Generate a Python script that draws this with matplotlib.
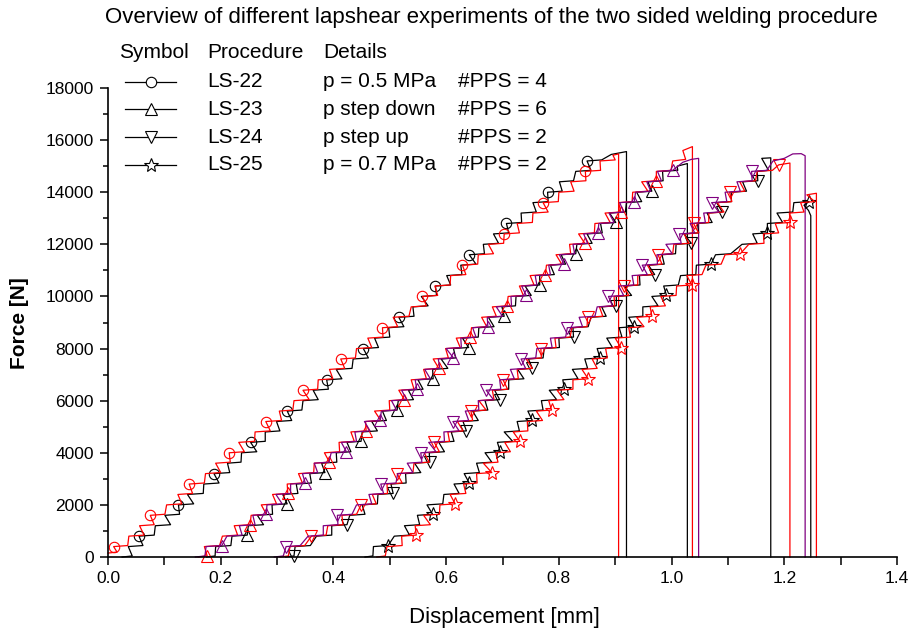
import matplotlib
matplotlib.use("Agg")
import matplotlib.pyplot as plt
from matplotlib.lines import Line2D
from matplotlib.ticker import MultipleLocator

plt.rcParams["font.family"] = ["Liberation Sans", "DejaVu Sans"]

# force readings (N), shared by the curves: level and the end of the jitter stroke
force_steps = [0, 40, 400, 440, 800, 840, 1200, 1240, 1600, 1640, 2000, 2040, 2400, 2440, 2800, 2840,
               3200, 3240, 3600, 3640, 4000, 4040, 4400, 4440, 4800, 4840, 5200, 5240, 5600, 5640,
               6000, 6040, 6400, 6440, 6800, 6840, 7200, 7240, 7600, 7640, 8000, 8040, 8400, 8440,
               8800, 8840, 9200, 9240, 9600, 9640, 10000, 10040, 10400, 10440, 10800, 10840,
               11200, 11240, 11600, 11640, 12000, 12040, 12400, 12440, 12800, 12840, 13200, 13240,
               13600, 13640, 14000, 14040, 14400, 14440, 14800, 14840, 15200, 15240]

# LS-22 (circles)
ls22_black_x = [0.025, 0.043, 0.036, 0.062, 0.055, 0.082, 0.084, 0.111, 0.101, 0.127, 0.125, 0.152, 0.141, 0.169,
                0.170, 0.197, 0.188, 0.216, 0.212, 0.236, 0.237, 0.264, 0.253, 0.279, 0.279, 0.305, 0.299, 0.326,
                0.318, 0.344, 0.346, 0.373, 0.364, 0.391, 0.388, 0.415, 0.405, 0.433, 0.435, 0.462, 0.453, 0.480,
                0.473, 0.500, 0.498, 0.525, 0.516, 0.543, 0.541, 0.568, 0.556, 0.583, 0.581, 0.608, 0.601, 0.628,
                0.626, 0.653, 0.641, 0.668, 0.666, 0.693, 0.684, 0.711, 0.707, 0.734, 0.733, 0.760, 0.754, 0.781,
                0.780, 0.806, 0.801, 0.826, 0.830, 0.857, 0.850, 0.876, 0.893, 0.920, 0.920]
ls22_black_y = force_steps[:78] + [15450, 15560, 0]
ls22_red_x = [0.000, 0.016, 0.010, 0.035, 0.037, 0.064, 0.056, 0.082, 0.075, 0.101, 0.104, 0.131, 0.124, 0.150,
              0.144, 0.171, 0.173, 0.200, 0.191, 0.217, 0.215, 0.242, 0.232, 0.260, 0.261, 0.288, 0.280, 0.308,
              0.304, 0.328, 0.330, 0.357, 0.346, 0.372, 0.373, 0.399, 0.393, 0.420, 0.413, 0.439, 0.441, 0.468,
              0.461, 0.488, 0.487, 0.514, 0.506, 0.534, 0.538, 0.565, 0.558, 0.585, 0.580, 0.607, 0.608, 0.635,
              0.629, 0.656, 0.657, 0.684, 0.675, 0.702, 0.703, 0.730, 0.726, 0.753, 0.754, 0.781, 0.772, 0.799,
              0.800, 0.827, 0.821, 0.848, 0.847, 0.874, 0.873, 0.900, 0.896, 0.906, 0.906]
ls22_red_y = [150, 190] + force_steps[2:78] + [15420, 15470, 0]

# LS-23 (triangles up)
ls23_black_x = [0.175, 0.190, 0.191, 0.218, 0.220, 0.247, 0.249, 0.276, 0.265, 0.292, 0.291, 0.318, 0.310, 0.337,
                0.334, 0.361, 0.358, 0.385, 0.379, 0.406, 0.405, 0.431, 0.424, 0.449, 0.451, 0.478, 0.468, 0.494,
                0.487, 0.513, 0.515, 0.542, 0.533, 0.559, 0.550, 0.577, 0.576, 0.603, 0.591, 0.617, 0.613, 0.640,
                0.629, 0.657, 0.658, 0.685, 0.675, 0.703, 0.699, 0.723, 0.724, 0.751, 0.740, 0.766, 0.766, 0.792,
                0.785, 0.812, 0.804, 0.830, 0.832, 0.859, 0.850, 0.877, 0.874, 0.901, 0.890, 0.918, 0.920, 0.947,
                0.938, 0.965, 0.958, 0.985, 0.984, 1.011, 1.010, 1.028, 1.028]
ls23_black_y = force_steps[:76] + [15000, 15100, 0]
ls23_red_x = [0.160, 0.176, 0.171, 0.198, 0.203, 0.230, 0.224, 0.252, 0.254, 0.281, 0.272, 0.299, 0.292, 0.319,
              0.318, 0.345, 0.338, 0.365, 0.366, 0.393, 0.384, 0.411, 0.410, 0.437, 0.431, 0.458, 0.457, 0.484,
              0.473, 0.500, 0.499, 0.526, 0.516, 0.543, 0.538, 0.565, 0.560, 0.587, 0.577, 0.604, 0.599, 0.625,
              0.618, 0.643, 0.645, 0.672, 0.663, 0.689, 0.682, 0.708, 0.710, 0.737, 0.730, 0.756, 0.749, 0.776,
              0.778, 0.805, 0.795, 0.821, 0.819, 0.846, 0.835, 0.863, 0.864, 0.891, 0.882, 0.910, 0.906, 0.930,
              0.931, 0.958, 0.947, 0.973, 0.973, 0.999, 1.002, 1.025, 1.020, 1.037, 1.037]
ls23_red_y = force_steps[:76] + [15200, 15260, 15600, 15750, 0]
ls23_purple_x = [0.155, 0.172, 0.174, 0.202, 0.211, 0.238, 0.233, 0.261, 0.257, 0.281, 0.282, 0.309, 0.298, 0.324,
                 0.324, 0.350, 0.345, 0.372, 0.366, 0.392, 0.396, 0.423, 0.414, 0.441, 0.438, 0.465, 0.455, 0.483,
                 0.485, 0.512, 0.503, 0.530, 0.521, 0.548, 0.545, 0.572, 0.562, 0.589, 0.586, 0.613, 0.600, 0.627,
                 0.626, 0.653, 0.647, 0.674, 0.673, 0.700, 0.689, 0.716, 0.715, 0.742, 0.734, 0.761, 0.758, 0.785,
                 0.782, 0.809, 0.801, 0.828, 0.825, 0.851, 0.844, 0.869, 0.871, 0.898, 0.889, 0.915, 0.908, 0.934,
                 0.936, 0.963, 0.956, 0.982, 0.975, 1.002, 1.020, 1.035, 1.048, 1.048]
ls23_purple_y = force_steps[:76] + [15150, 15260, 15300, 0]

# LS-24 (triangles down)
ls24_black_x = [0.315, 0.330, 0.332, 0.359, 0.370, 0.397, 0.397, 0.424, 0.429, 0.456, 0.451, 0.478, 0.479, 0.506,
                0.502, 0.529, 0.528, 0.555, 0.544, 0.571, 0.570, 0.597, 0.587, 0.614, 0.609, 0.636, 0.630, 0.657,
                0.647, 0.674, 0.669, 0.695, 0.686, 0.711, 0.711, 0.738, 0.727, 0.753, 0.746, 0.772, 0.774, 0.801,
                0.800, 0.826, 0.825, 0.852, 0.857, 0.884, 0.876, 0.902, 0.902, 0.929, 0.916, 0.944, 0.943, 0.970,
                0.959, 0.987, 0.983, 1.007, 1.008, 1.035, 1.022, 1.048, 1.046, 1.072, 1.063, 1.090, 1.080, 1.106,
                1.106, 1.133, 1.126, 1.153, 1.152, 1.172, 1.160, 1.176, 1.176]
ls24_black_y = force_steps[:76] + [15300, 15320, 0]
ls24_red_x = [0.305, 0.320, 0.323, 0.349, 0.361, 0.387, 0.390, 0.417, 0.415, 0.441, 0.449, 0.476, 0.469, 0.496,
              0.495, 0.522, 0.513, 0.541, 0.543, 0.570, 0.561, 0.588, 0.579, 0.606, 0.603, 0.630, 0.620, 0.647,
              0.644, 0.671, 0.658, 0.685, 0.682, 0.709, 0.701, 0.728, 0.726, 0.753, 0.742, 0.769, 0.768, 0.795,
              0.793, 0.820, 0.823, 0.850, 0.851, 0.878, 0.872, 0.899, 0.898, 0.924, 0.915, 0.940, 0.940, 0.967,
              0.957, 0.983, 0.976, 1.002, 1.004, 1.031, 1.022, 1.048, 1.039, 1.066, 1.066, 1.093, 1.081, 1.107,
              1.103, 1.130, 1.121, 1.149, 1.152, 1.179, 1.190, 1.210, 1.210]
ls24_red_y = force_steps[:76] + [15050, 15120, 0]
ls24_purple_x = [0.295, 0.311, 0.316, 0.341, 0.355, 0.382, 0.382, 0.408, 0.407, 0.433, 0.441, 0.468, 0.463, 0.489,
                 0.484, 0.511, 0.514, 0.541, 0.531, 0.557, 0.555, 0.582, 0.569, 0.597, 0.596, 0.623, 0.612, 0.640,
                 0.634, 0.658, 0.657, 0.684, 0.671, 0.697, 0.695, 0.721, 0.714, 0.741, 0.733, 0.759, 0.761, 0.788,
                 0.785, 0.812, 0.815, 0.842, 0.836, 0.864, 0.868, 0.895, 0.888, 0.915, 0.906, 0.933, 0.930, 0.957,
                 0.948, 0.975, 0.974, 1.001, 0.990, 1.017, 1.014, 1.041, 1.033, 1.060, 1.057, 1.084, 1.071, 1.098,
                 1.095, 1.122, 1.116, 1.143, 1.142, 1.169, 1.180, 1.200, 1.215, 1.230, 1.237, 1.237]
ls24_purple_y = force_steps[:76] + [15200, 15300, 15470, 15480, 15400, 0]

# LS-25 (stars)
ls25_black_x = [0.456, 0.470, 0.471, 0.497, 0.508, 0.535, 0.526, 0.553, 0.549, 0.576, 0.566, 0.594, 0.596, 0.623,
                0.614, 0.641, 0.632, 0.659, 0.654, 0.681, 0.669, 0.696, 0.691, 0.718, 0.703, 0.730, 0.726, 0.753,
                0.745, 0.772, 0.769, 0.796, 0.783, 0.810, 0.807, 0.834, 0.824, 0.851, 0.846, 0.873, 0.868, 0.895,
                0.885, 0.912, 0.907, 0.933, 0.924, 0.949, 0.949, 0.976, 0.965, 0.991, 0.986, 1.012, 1.016, 1.043,
                1.044, 1.070, 1.078, 1.105, 1.125, 1.152, 1.144, 1.170, 1.170, 1.197, 1.187, 1.215, 1.217, 1.244,
                1.235, 1.243, 1.247, 1.247]
ls25_black_y = force_steps[:70] + [13500, 13300, 13100, 0]
ls25_red_x = [0.477, 0.492, 0.495, 0.522, 0.521, 0.547, 0.545, 0.572, 0.560, 0.588, 0.589, 0.616, 0.607, 0.635,
              0.631, 0.655, 0.654, 0.681, 0.666, 0.692, 0.688, 0.714, 0.704, 0.731, 0.719, 0.745, 0.744, 0.771,
              0.760, 0.787, 0.782, 0.809, 0.797, 0.825, 0.825, 0.852, 0.841, 0.868, 0.859, 0.886, 0.883, 0.910,
              0.900, 0.927, 0.924, 0.951, 0.938, 0.965, 0.962, 0.989, 0.981, 1.008, 1.009, 1.036, 1.027, 1.054,
              1.061, 1.088, 1.095, 1.122, 1.137, 1.164, 1.163, 1.190, 1.184, 1.211, 1.209, 1.235, 1.229, 1.254,
              1.240, 1.257, 1.257]
ls25_red_y = force_steps[:70] + [13900, 13960, 0]

legend_procedures = ["LS-22", "LS-23", "LS-24", "LS-25"]
legend_pressures = ["p = 0.5 MPa", "p step down", "p step up", "p = 0.7 MPa"]
legend_pps = ["#PPS = 4", "#PPS = 6", "#PPS = 2", "#PPS = 2"]
legend_markers = ["o", "^", "v", "*"]

BLACK = "#000000"
RED = "#ff0000"
PURPLE = "#800080"
MARKER_SIZE = {"o": 7.5, "^": 9, "v": 9, "*": 10}

W, H = 911, 632
fig = plt.figure(figsize=(W / 100, H / 100), dpi=100)
ax = fig.add_axes([108 / W, 1 - 557 / H, 789 / W, 469 / H])

curves = [
    (ls22_black_x, ls22_black_y, BLACK, "o", 4),
    (ls22_red_x, ls22_red_y, RED, "o", 2),
    (ls23_black_x, ls23_black_y, BLACK, "^", 5),
    (ls23_red_x, ls23_red_y, RED, "^", 1),
    (ls23_purple_x, ls23_purple_y, PURPLE, "^", 3),
    (ls24_black_x, ls24_black_y, BLACK, "v", 1),
    (ls24_red_x, ls24_red_y, RED, "v", 4),
    (ls24_purple_x, ls24_purple_y, PURPLE, "v", 2),
    (ls25_black_x, ls25_black_y, BLACK, "*", 3),
    (ls25_red_x, ls25_red_y, RED, "*", 5),
]
for xs, ys, col, mk, start in curves:
    # no symbol on the drop back to zero
    ax.plot(xs, ys, color=col, lw=0.9, marker=mk, markevery=slice(start, len(xs) - 2, 6),
            ms=MARKER_SIZE[mk], mfc="none", mec=col, mew=0.8, clip_on=False)

ax.set_xlim(0, 1.4)
ax.set_ylim(0, 18000)
ax.xaxis.set_major_locator(MultipleLocator(0.2))
ax.xaxis.set_minor_locator(MultipleLocator(0.1))
ax.yaxis.set_major_locator(MultipleLocator(2000))
ax.yaxis.set_minor_locator(MultipleLocator(1000))
ax.xaxis.set_major_formatter(plt.FuncFormatter(lambda v, p: f"{v:.1f}"))
for s in ["top", "right"]:
    ax.spines[s].set_visible(False)
for s in ["left", "bottom"]:
    ax.spines[s].set_linewidth(1.2)
ax.tick_params(axis="both", which="both", direction="out", width=1.1, labelsize=12.5, pad=4)
ax.tick_params(axis="x", which="both", length=6)
ax.tick_params(axis="y", which="major", length=6)
ax.tick_params(axis="y", which="minor", length=3.5)

fig.text(491 / W, 1 - 17 / H, "Overview of different lapshear experiments of the two sided welding procedure",
         ha="center", va="center", fontsize=16)
fig.text(504 / W, 1 - 618 / H, "Displacement [mm]", ha="center", va="center", fontsize=16)
fig.text(20 / W, 1 - 323 / H, "Force [N]", ha="center", va="center", fontsize=15,
         fontweight="bold", rotation=90)

# legend drawn as a small table
fs = 15
fig.text(119 / W, 1 - 53 / H, "Symbol", ha="left", va="center", fontsize=fs)
fig.text(207 / W, 1 - 53 / H, "Procedure", ha="left", va="center", fontsize=fs)
fig.text(323 / W, 1 - 53 / H, "Details", ha="left", va="center", fontsize=fs)
for i, (proc, pres, pps, mk) in enumerate(zip(legend_procedures, legend_pressures, legend_pps, legend_markers)):
    yy = 1 - (81.5 + 27.8 * i) / H
    fig.add_artist(Line2D([125 / W, 176 / W], [yy, yy], transform=fig.transFigure, color=BLACK, lw=0.9))
    fig.add_artist(Line2D([150.5 / W], [yy], transform=fig.transFigure, color=BLACK, marker=mk,
                          ms=MARKER_SIZE[mk], mfc="white", mec=BLACK, mew=0.8))
    fig.text(207 / W, yy, proc, ha="left", va="center", fontsize=fs)
    fig.text(323 / W, yy, pres, ha="left", va="center", fontsize=fs)
    fig.text(458 / W, yy, pps, ha="left", va="center", fontsize=fs)

fig.savefig("out.png", dpi=100)
